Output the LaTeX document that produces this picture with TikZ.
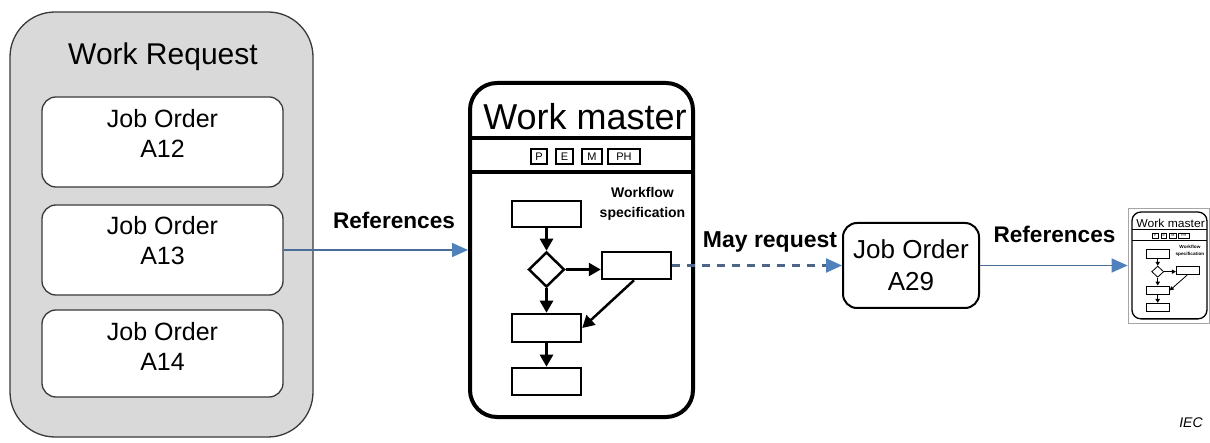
\documentclass[tikz,border=0pt]{standalone}
\usepackage{fontspec}
\setmainfont{Liberation Sans}
\usetikzlibrary{arrows.meta,shapes.geometric}
\definecolor{wrgray}{HTML}{D9D9D9}
\definecolor{wrline}{HTML}{3A3A3A}
\definecolor{refblue}{HTML}{4F81BD}
\definecolor{refline}{HTML}{4A6D96}
\definecolor{dashcol}{HTML}{4D6685}
\newcommand\fsz[2]{\fontsize{#1}{#2}\selectfont}
\tikzset{
  wmframe/.style={draw, line width=4pt, rounded corners=27pt, minimum width=223pt, minimum height=334pt, inner sep=0pt, fill=white},
  wmsep/.style={line width=3.5pt},
  pembox/.style={draw, line width=1.2pt, minimum height=15pt, inner sep=0pt, font=\fsz{11}{11}},
  fbox/.style={draw, line width=2.5pt, minimum width=69pt, inner sep=0pt, fill=white},
  fdia/.style={draw, diamond, line width=2.5pt, minimum width=36pt, minimum height=35pt, inner sep=0pt, fill=white},
  farrow/.style={line width=2.5pt, -{Triangle[length=12pt,width=13pt]}},
  wfont/.style={font=\bfseries\fsz{14}{14}, anchor=base},
  wrbox/.style={draw=wrline, line width=1.3pt, fill=wrgray, rounded corners=45pt, minimum width=303pt, minimum height=425pt, inner sep=0pt},
  jobbox/.style={draw=wrline, line width=1.3pt, fill=white, rounded corners=14pt, minimum width=241pt, inner sep=0pt},
  jobtext/.style={align=center, font=\fsz{25}{30}},
  reflabel/.style={font=\bfseries\fsz{22.6}{22.6}, anchor=base},
  refarrow/.style={draw=refline, line width=1.5pt, -{Triangle[length=16pt,width=14pt,fill=refblue,color=refblue]}},
  dasharrow/.style={draw=dashcol, line width=2.3pt, dash pattern=on 8pt off 7pt, -{Triangle[length=16pt,width=14pt,fill=refblue,color=refblue]}},
}
\newcommand\WMdraw[1]{%
  \node[wmframe] (#1frame) at (111.5,167) {};
  \draw[wmsep] (0,55) -- (223,55);
  \draw[wmsep] (0,89) -- (223,89);
  \node[anchor=base, font=\fsz{36}{36}, inner sep=0pt] (#1title) at (115,47) {Work master};
  \node[pembox, minimum width=16pt] (#1P) at (69,73.5) {P};
  \node[pembox, minimum width=17pt] (#1E) at (94.5,73.5) {E};
  \node[pembox, minimum width=20pt] (#1M) at (122,73.5) {M};
  \node[pembox, minimum width=32pt] (#1PH) at (154,73.5) {PH};
  \node[wfont] (#1wf) at (172.5,115) {Workflow};
  \node[wfont] (#1spec) at (172.5,135) {specification};
  \node[fbox, minimum height=26pt] (#1b1) at (76.5,131) {};
  \node[fdia] (#1d) at (76.5,186.5) {};
  \node[fbox, minimum height=27pt] (#1b2) at (166.5,182.5) {};
  \node[fbox, minimum height=28pt] (#1b3) at (76.5,245) {};
  \node[fbox, minimum height=27pt] (#1b4) at (76.5,298.5) {};
  \draw[farrow] (#1b1.south) -- (#1d.north);
  \draw[farrow] (#1d.east) -- (#1d.east -| #1b2.west);
  \draw[farrow] (#1d.south) -- (#1b3.north);
  \draw[farrow] (#1b3.south) -- (#1b4.north);
  \draw[farrow] ([xshift=-2.5pt]#1b2.south) -- (#1b3.east);
}
\begin{document}
\begin{tikzpicture}[x=1pt, y=-1pt]
\useasboundingbox (0,0) rectangle (1210,443);
\fill[white] (0,0) rectangle (1210,443);
% Work Request
\node[wrbox] (wr) at (161.5,224.5) {};
\node[anchor=base, font=\fsz{30}{30}] (wrtitle) at (163,65) {Work Request};
\node[jobbox, minimum height=90pt] (j12) at (162.5,142) {};
\node[jobtext] (j12t) at (162.5,133) {Job Order\\A12};
\node[jobbox, minimum height=90pt] (j13) at (162.5,250) {};
\node[jobtext] (j13t) at (162.5,241) {Job Order\\A13};
\node[jobbox, minimum height=87pt] (j14) at (162.5,353.5) {};
\node[jobtext] (j14t) at (162.5,346) {Job Order\\A14};
% Work master
\begin{scope}[shift={(470,83)}]
\WMdraw{w}
\end{scope}
% Job Order A29
\node[draw, line width=2pt, rounded corners=14pt, minimum width=136pt, minimum height=85pt, align=center, font=\fsz{26}{32}] (a29) at (911,265.5) {Job Order\\A29};
% mini work master picture
\node[draw=black!35, line width=0.8pt, minimum width=81pt, minimum height=115pt, inner sep=0pt] (mini) at (1168.5,265.5) {};
\begin{scope}[transform canvas={shift={(1132,212)}, xscale=0.336, yscale=0.32}]
\WMdraw{m}
\end{scope}
% connectors
\draw[refarrow] (j13.east) -- (wframe.west);
\node[reflabel] (ref1) at (394,229) {References};
\draw[dasharrow] (wb2.east) -- (a29.west);
\node[anchor=base, font=\bfseries\fsz{23}{23}] (mayreq) at (770,248) {May request};
\draw[refarrow] (a29.east) -- (mini.west);
\node[reflabel] (ref2) at (1054.5,243) {References};
\node[anchor=base, font=\itshape\fsz{14}{14}] (iec) at (1191,428) {IEC};
\end{tikzpicture}
\end{document}
